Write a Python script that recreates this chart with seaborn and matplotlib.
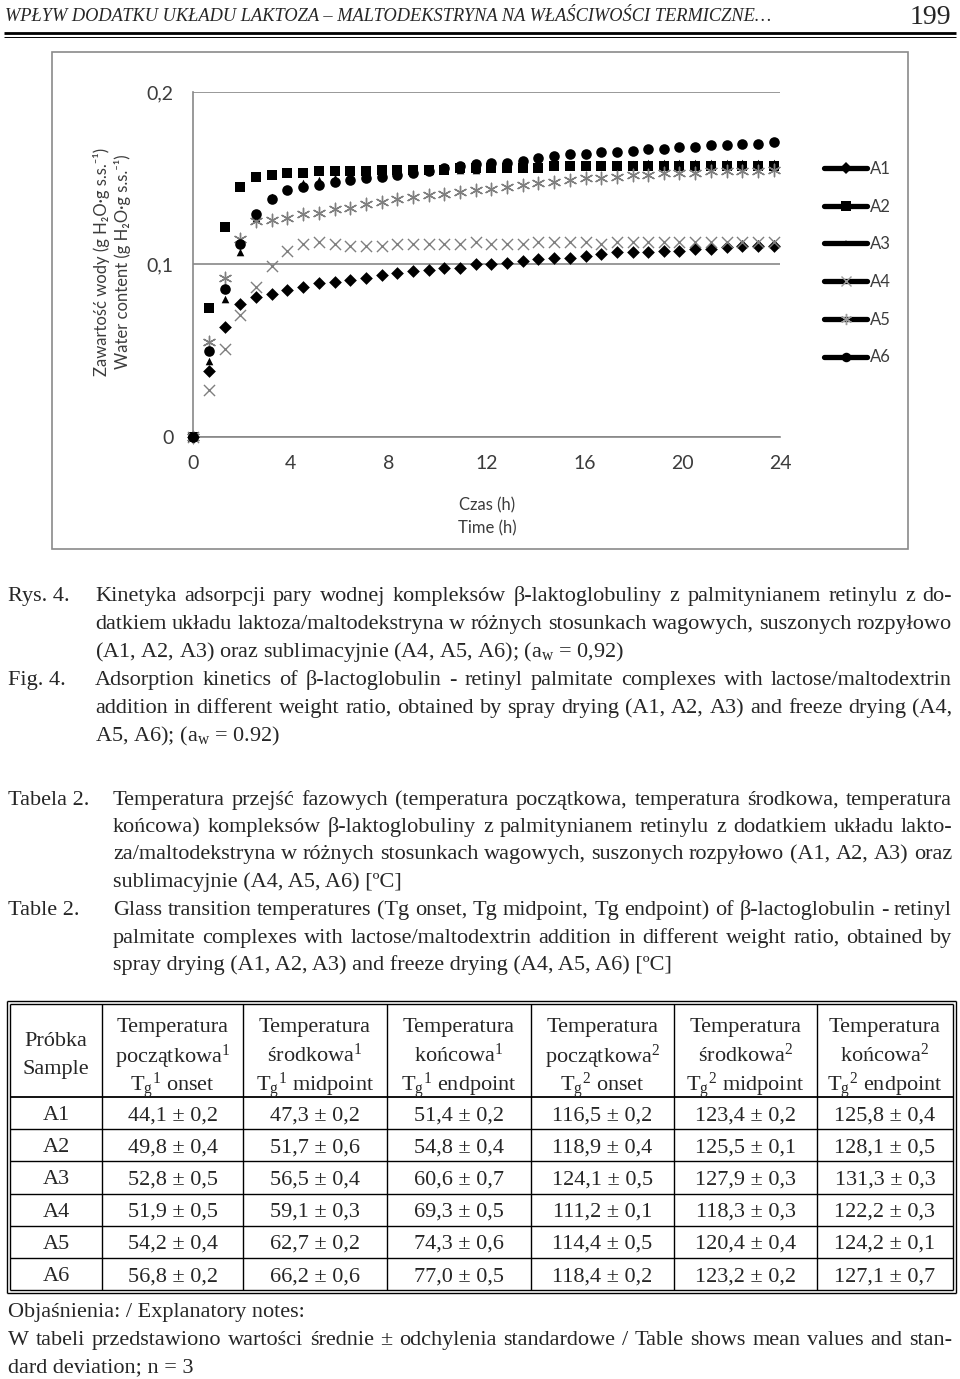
import matplotlib
matplotlib.use("Agg")
import matplotlib.pyplot as plt
import seaborn as sns
from matplotlib.lines import Line2D
from matplotlib.patches import Rectangle

# ---------------- data ----------------
time_h = [0, 0.65, 1.30, 1.94, 2.58, 3.22, 3.86, 4.51, 5.15, 5.79, 6.43, 7.07, 7.71, 8.35,
          9.00, 9.64, 10.28, 10.92, 11.56, 12.20, 12.84, 13.48, 14.12, 14.77, 15.41, 16.05,
          16.69, 17.33, 17.97, 18.61, 19.25, 19.89, 20.54, 21.18, 21.82, 22.46, 23.10, 23.74]

A1 = [0, 0.038, 0.064, 0.077, 0.081, 0.083, 0.085, 0.087, 0.089, 0.090, 0.091, 0.092, 0.094,
      0.095, 0.096, 0.097, 0.098, 0.098, 0.100, 0.100, 0.101, 0.102, 0.103, 0.104, 0.104,
      0.105, 0.106, 0.107, 0.107, 0.107, 0.108, 0.108, 0.109, 0.109, 0.110, 0.111, 0.111, 0.111]
A2 = [0, 0.075, 0.122, 0.145, 0.151, 0.152, 0.153, 0.153, 0.154, 0.154, 0.154, 0.154, 0.155,
      0.155, 0.155, 0.155, 0.155, 0.156, 0.156, 0.156, 0.156, 0.156, 0.156, 0.157, 0.157,
      0.157, 0.157, 0.157, 0.157, 0.157, 0.157, 0.157, 0.157, 0.157, 0.157, 0.157, 0.157, 0.157]
A3 = [0, 0.044, 0.080, 0.107, 0.127, 0.139, 0.144, 0.147, 0.149, 0.150, 0.151, 0.152, 0.153,
      0.153, 0.154, 0.154, 0.155, 0.155, 0.155, 0.156, 0.156, 0.156, 0.157, 0.157, 0.157,
      0.158, 0.158, 0.158, 0.158, 0.159, 0.159, 0.159, 0.159, 0.159, 0.159, 0.159, 0.159, 0.159]
A4 = [0, 0.027, 0.051, 0.071, 0.087, 0.099, 0.108, 0.112, 0.113, 0.112, 0.111, 0.111, 0.111,
      0.112, 0.112, 0.112, 0.112, 0.112, 0.113, 0.112, 0.112, 0.112, 0.113, 0.113, 0.113,
      0.113, 0.112, 0.113, 0.113, 0.113, 0.113, 0.113, 0.113, 0.113, 0.113, 0.113, 0.113, 0.113]
A5 = [0, 0.055, 0.092, 0.115, 0.125, 0.126, 0.127, 0.129, 0.130, 0.132, 0.133, 0.135, 0.136,
      0.138, 0.139, 0.140, 0.141, 0.142, 0.143, 0.144, 0.145, 0.146, 0.147, 0.148, 0.149,
      0.150, 0.150, 0.151, 0.152, 0.152, 0.153, 0.153, 0.153, 0.154, 0.154, 0.154, 0.154, 0.155]
A6 = [0, 0.050, 0.086, 0.112, 0.129, 0.138, 0.143, 0.145, 0.146, 0.148, 0.149, 0.150, 0.151,
      0.152, 0.153, 0.154, 0.156, 0.157, 0.158, 0.159, 0.159, 0.160, 0.162, 0.163, 0.164,
      0.164, 0.165, 0.165, 0.166, 0.167, 0.167, 0.168, 0.168, 0.169, 0.169, 0.170, 0.170, 0.171]

series_names = ["A1", "A2", "A3", "A4", "A5", "A6"]
x_ticks = [0, 4, 8, 12, 16, 20, 24]
x_tick_labels = ["0", "4", "8", "12", "16", "20", "24"]
y_ticks = [0, 0.1, 0.2]
y_tick_labels = ["0", "0,1", "0,2"]

samples = ["A1", "A2", "A3", "A4", "A5", "A6"]
tg1_onset = ["44,1 ± 0,2", "49,8 ± 0,4", "52,8 ± 0,5", "51,9 ± 0,5", "54,2 ± 0,4", "56,8 ± 0,2"]
tg1_mid = ["47,3 ± 0,2", "51,7 ± 0,6", "56,5 ± 0,4", "59,1 ± 0,3", "62,7 ± 0,2", "66,2 ± 0,6"]
tg1_end = ["51,4 ± 0,2", "54,8 ± 0,4", "60,6 ± 0,7", "69,3 ± 0,5", "74,3 ± 0,6", "77,0 ± 0,5"]
tg2_onset = ["116,5 ± 0,2", "118,9 ± 0,4", "124,1 ± 0,5", "111,2 ± 0,1", "114,4 ± 0,5", "118,4 ± 0,2"]
tg2_mid = ["123,4 ± 0,2", "125,5 ± 0,1", "127,9 ± 0,3", "118,3 ± 0,3", "120,4 ± 0,4", "123,2 ± 0,2"]
tg2_end = ["125,8 ± 0,4", "128,1 ± 0,5", "131,3 ± 0,3", "122,2 ± 0,3", "124,2 ± 0,1", "127,1 ± 0,7"]

header_cells = [
    ["Próbka", "Sample"],
    ["Temperatura", "początkowa$^{1}$", "T$_{\\mathrm{g}}$$^{1}$ onset"],
    ["Temperatura", "środkowa$^{1}$", "T$_{\\mathrm{g}}$$^{1}$ midpoint"],
    ["Temperatura", "końcowa$^{1}$", "T$_{\\mathrm{g}}$$^{1}$ endpoint"],
    ["Temperatura", "początkowa$^{2}$", "T$_{\\mathrm{g}}$$^{2}$ onset"],
    ["Temperatura", "środkowa$^{2}$", "T$_{\\mathrm{g}}$$^{2}$ midpoint"],
    ["Temperatura", "końcowa$^{2}$", "T$_{\\mathrm{g}}$$^{2}$ endpoint"],
]

# ---------------- style ----------------
sns.set_style("white")
SERIF = ["Liberation Serif", "DejaVu Serif"]
SANS = ["Lato", "DejaVu Sans"]
plt.rcParams["font.family"] = SERIF
plt.rcParams["mathtext.fontset"] = "custom"
plt.rcParams["mathtext.rm"] = "Liberation Serif"
plt.rcParams["mathtext.it"] = "Liberation Serif:italic"
plt.rcParams["mathtext.bf"] = "Liberation Serif:bold"

W, H = 960, 1379
fig = plt.figure(figsize=(W / 100, H / 100), dpi=100)


def fx(px):
    return px / W


def fy(py):
    return 1 - py / H


def hline(x0, x1, y, lw=1.0, color="black"):
    fig.add_artist(Line2D([fx(x0), fx(x1)], [fy(y), fy(y)], transform=fig.transFigure,
                          color=color, lw=lw, solid_capstyle="butt"))


def vline(x, y0, y1, lw=1.0, color="black"):
    fig.add_artist(Line2D([fx(x), fx(x)], [fy(y0), fy(y1)], transform=fig.transFigure,
                          color=color, lw=lw, solid_capstyle="butt"))


TXT = 16
renderer = fig.canvas.get_renderer()


def justify(line, x0, x1, yb, size=TXT):
    words = line.split(" ")
    texts = [fig.text(0, 0, w, fontsize=size, va="baseline", ha="left") for w in words]
    widths = [t.get_window_extent(renderer).width for t in texts]
    gap = (x1 - x0 - sum(widths)) / max(len(words) - 1, 1)
    x = x0
    for t, w in zip(texts, widths):
        t.set_position((fx(x), fy(yb)))
        x += w + gap


def plain(line, x0, yb, size=TXT, **kw):
    fig.text(fx(x0), fy(yb), line, fontsize=size, va="baseline", ha="left", **kw)


# ---------------- page header ----------------
plain("WPŁYW DODATKU UKŁADU LAKTOZA – MALTODEKSTRYNA NA WŁAŚCIWOŚCI TERMICZNE…", 5, 21,
      size=13.2, style="italic")
fig.text(fx(951), fy(24), "199", fontsize=20, ha="right", va="baseline")
hline(4, 956, 33, lw=2.0)
hline(4, 956, 36.5, lw=0.7)

# ---------------- chart ----------------
fig.add_artist(Rectangle((fx(52), fy(549)), fx(908) - fx(52), fy(52) - fy(549),
                         transform=fig.transFigure, fill=False, edgecolor="#8a8a8a", lw=1.2))

ax = fig.add_axes([fx(193), fy(437), fx(780) - fx(193), fy(92) - fy(437)])
GRID = "#878787"
TICKC = "#3c3c3c"

styles = {
    "A1": dict(marker="D", s=42, color="black", edgecolor="black", linewidth=0),
    "A2": dict(marker="s", s=56, color="black", edgecolor="black", linewidth=0),
    "A3": dict(marker="^", s=30, color="black", edgecolor="black", linewidth=0),
    "A4": dict(marker="x", s=64, color="#7f7f7f", linewidth=1.0),
    "A5": dict(marker=(6, 2, 0), s=80, color="#7f7f7f", linewidth=1.0),
    "A6": dict(marker="o", s=58, color="black", edgecolor="black", linewidth=0),
}
values = {"A1": A1, "A2": A2, "A3": A3, "A4": A4, "A5": A5, "A6": A6}
for i, name in enumerate(series_names):
    sns.scatterplot(x=time_h, y=values[name], ax=ax, legend=False, clip_on=False,
                    zorder=3 + i, **styles[name])

ax.set_xlim(0, 24)
ax.set_ylim(0, 0.2)
ax.set_xticks(x_ticks)
ax.set_xticklabels(x_tick_labels, fontfamily=SANS, fontsize=14, color=TICKC)
ax.set_yticks(y_ticks)
ax.set_yticklabels(y_tick_labels, fontfamily=SANS, fontsize=14, color=TICKC)
ax.tick_params(axis="both", length=0)
ax.tick_params(axis="x", pad=13)
ax.tick_params(axis="y", pad=14)
ax.grid(axis="y", color=GRID, lw=1.2)
ax.grid(axis="x", visible=False)
ax.set_axisbelow(True)
for sp in ["top", "right"]:
    ax.spines[sp].set_visible(False)
for sp in ["left", "bottom"]:
    ax.spines[sp].set_color(GRID)
    ax.spines[sp].set_linewidth(1.2)
ax.set_xlabel("")
ax.set_ylabel("")

fig.text(fx(487), fy(505), "Czas (h)", fontfamily=SANS, fontsize=12, color=TICKC,
         ha="center", va="center")
fig.text(fx(487), fy(528), "Time (h)", fontfamily=SANS, fontsize=12, color=TICKC,
         ha="center", va="center")
fig.text(fx(101), fy(262), "Zawartość wody (g H₂O·g s.s.⁻¹)", fontfamily=SANS, fontsize=12,
         color=TICKC, rotation=90, ha="center", va="center")
fig.text(fx(123), fy(262), "Water content (g H₂O·g s.s.⁻¹)", fontfamily=SANS, fontsize=12,
         color=TICKC, rotation=90, ha="center", va="center")

handles = []
for name in series_names:
    st = styles[name]
    mfill = st["color"]
    handles.append(Line2D([], [], color="black", lw=3.8, marker=st["marker"],
                          markersize=(st["s"] ** 0.5) * 0.9, markerfacecolor=mfill,
                          markeredgecolor=mfill if name not in ("A4", "A5") else "#9a9a9a",
                          markeredgewidth=1.0 if name in ("A4", "A5") else 0))
leg = ax.legend(handles, series_names, loc="upper left", bbox_to_anchor=(fx(824), fy(161)),
                bbox_transform=fig.transFigure, frameon=False,
                handlelength=2.6, handletextpad=0.15, labelspacing=1.3, borderpad=0,
                borderaxespad=0, prop={"family": SANS, "size": 12})
for t in leg.get_texts():
    t.set_color(TICKC)

# ---------------- figure caption ----------------
plain("Rys. 4.", 8, 601)
justify("Kinetyka adsorpcji pary wodnej kompleksów β-laktoglobuliny z palmitynianem retinylu z do-", 95, 952, 601)
justify("datkiem układu laktoza/maltodekstryna w różnych stosunkach wagowych, suszonych rozpyłowo", 95, 952, 629)
plain("(A1, A2, A3) oraz sublimacyjnie (A4, A5, A6); (a$_{\\mathrm{w}}$ = 0,92)", 95, 657)
plain("Fig. 4.", 8, 685)
justify("Adsorption kinetics of β-lactoglobulin - retinyl palmitate complexes with lactose/maltodextrin", 95, 952, 685)
justify("addition in different weight ratio, obtained by spray drying (A1, A2, A3) and freeze drying (A4,", 95, 952, 713)
plain("A5, A6); (a$_{\\mathrm{w}}$ = 0.92)", 95, 741)

# ---------------- table caption ----------------
plain("Tabela 2.", 8, 805)
justify("Temperatura przejść fazowych (temperatura początkowa, temperatura środkowa, temperatura", 113, 952, 805)
justify("końcowa) kompleksów β-laktoglobuliny z palmitynianem retinylu z dodatkiem układu lakto-", 113, 952, 832)
justify("za/maltodekstryna w różnych stosunkach wagowych, suszonych rozpyłowo (A1, A2, A3) oraz", 113, 952, 859)
plain("sublimacyjnie (A4, A5, A6) [ºC]", 113, 887)
plain("Table 2.", 8, 915)
justify("Glass transition temperatures (Tg onset, Tg midpoint, Tg endpoint) of β-lactoglobulin - retinyl", 113, 952, 915)
justify("palmitate complexes with lactose/maltodextrin addition in different weight ratio, obtained by", 113, 952, 943)
plain("spray drying (A1, A2, A3) and freeze drying (A4, A5, A6) [ºC]", 113, 970)

# ---------------- table ----------------
col_x = [10, 102, 243, 387, 531, 674, 817, 953]
top, head_bot = 1004, 1097
row_h = 32.2
bottom = head_bot + 6 * row_h
for off, lw in [(0, 1.0), (3, 1.0)]:
    hline(col_x[0] - off, col_x[-1] + off, top - off, lw=lw)
    hline(col_x[0] - off, col_x[-1] + off, bottom + off, lw=lw)
    vline(col_x[0] - off, top - off, bottom + off, lw=lw)
    vline(col_x[-1] + off, top - off, bottom + off, lw=lw)
for x in col_x[1:-1]:
    vline(x, top, bottom, lw=1.0)
hline(col_x[0], col_x[-1], head_bot, lw=1.3)
for r in range(1, 6):
    hline(col_x[0], col_x[-1], head_bot + r * row_h, lw=1.0)

centers = [(col_x[i] + col_x[i + 1]) / 2 for i in range(7)]
TS = 16
for i, cell in enumerate(header_cells):
    if len(cell) == 2:
        ys = [1039, 1067]
    else:
        ys = [1025, 1053, 1081]
    for line, yc in zip(cell, ys):
        fig.text(fx(centers[i]), fy(yc), line, fontsize=TS, ha="center", va="center_baseline")

cols = [samples, tg1_onset, tg1_mid, tg1_end, tg2_onset, tg2_mid, tg2_end]
for r in range(6):
    yc = head_bot + (r + 0.5) * row_h
    for c in range(7):
        fig.text(fx(centers[c]), fy(yc), cols[c][r], fontsize=TS, ha="center",
                 va="center_baseline")

# ---------------- notes ----------------
plain("Objaśnienia: / Explanatory notes:", 8, 1317)
justify("W tabeli przedstawiono wartości średnie ± odchylenia standardowe / Table shows mean values and stan-", 8, 952, 1345)
plain("dard deviation; n = 3", 8, 1372)

fig.savefig("out.png", dpi=100)
